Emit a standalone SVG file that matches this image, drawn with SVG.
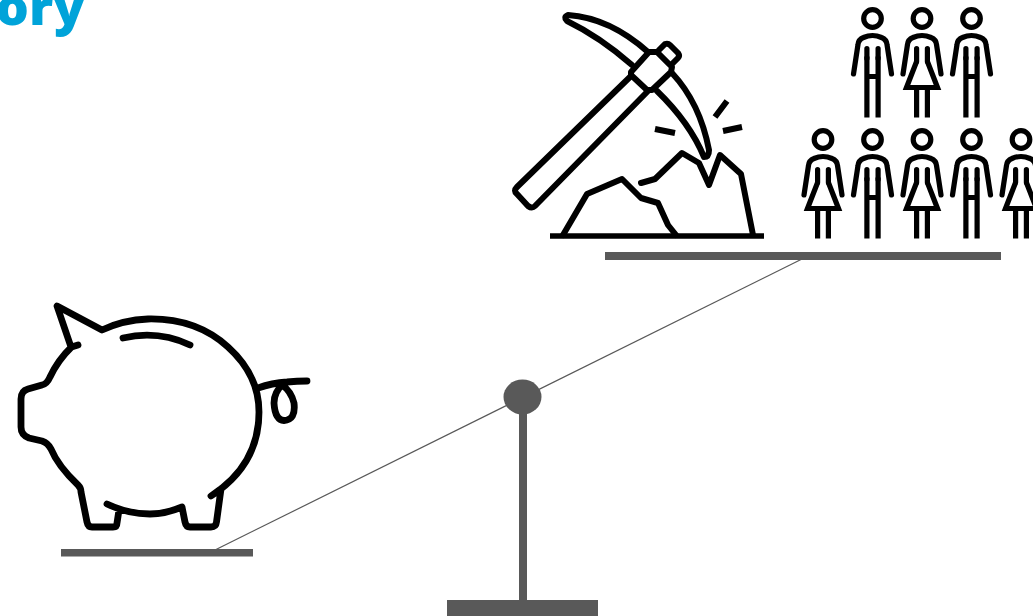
<svg xmlns="http://www.w3.org/2000/svg" width="1033" height="616" viewBox="0 0 1033 616">
<style>
.k{fill:none;stroke:#000;stroke-width:6;stroke-linejoin:round;stroke-linecap:round}
.b{fill:none;stroke:#000;stroke-width:6.800;stroke-linejoin:round;stroke-linecap:round}
.p{fill:none;stroke:#000;stroke-width:5.200;stroke-linejoin:miter;stroke-linecap:butt}
.pr{fill:none;stroke:#000;stroke-width:5.200;stroke-linejoin:round;stroke-linecap:round}
.g{fill:#595959}
.t{font-family:"Open Sans",sans-serif;font-weight:800;font-size:52px;fill:#00a3d9}
</style>
<defs>
<g id="man">
<circle class="p" cx="0" cy="0" r="8.800"/>
<path class="pr" d="M-19 55.500L-14.500 26Q-14 21-9 19Q0 15 9 19Q14 21 14.500 26L19 55.500"/>
<path class="pr" d="M-5.600 30V40M5.600 30V40"/>
<path class="p" d="M-5.600 38V99M5.600 38V99M-5.600 58H5.600"/>
</g>
<g id="woman">
<circle class="p" cx="0" cy="0" r="8.800"/>
<path class="pr" d="M-19 55.500L-14.500 26Q-14 21-9 19Q0 15 9 19Q14 21 14.500 26L19 55.500"/>
<path class="pr" d="M-5.400 30V43M5.400 30V43"/>
<path class="p" d="M-5.400 43L-15.500 69H15.500L5.400 43"/>
<path class="p" d="M-5.400 69V99M5.400 69V99"/>
</g>
</defs>
<text class="t" x="85" y="24.500" text-anchor="end">ory</text>
<g id="connectors">
<path d="M215 550L802 259" fill="none" stroke="#595959" stroke-width="1.200"/>
</g>
<g id="seesaw">
<rect class="g" x="605" y="252" width="396" height="8"/>
<rect class="g" x="61" y="549" width="192" height="7.500"/>
<ellipse class="g" cx="522.500" cy="397" rx="19" ry="17.500"/>
<rect class="g" x="519" y="400" width="8" height="202"/>
<rect class="g" x="447" y="600" width="151" height="16"/>
</g>
<g id="pig">
<path class="b" d="M78 345L71.500 347Q58 360 50 377Q47 384 42 385L28 389Q21 391 21 399V427Q21 435 29 438L42 441Q48 443 51 449Q58 466 78 485Q81 488 81 492L87 522Q88 527 92 527H113Q117 527 117 523L119 510M107 504Q128 514 150 514Q165 514 182 507L185 522Q186 527 190 527H211Q216 527 216.500 522L221 489M211 496Q259 465 259 412Q259 375 228 347Q196 318 148 319Q123 320 102 330L57 306L71 347"/>
<path class="b" d="M123 338Q158 330 190 345"/>
<path class="b" d="M258 388Q272 383 287 382Q297 381 307 381M283 384Q274 392 274 403Q275 420 284 420.500Q296 420 294 403Q291 391 282 385"/>
</g>
<g id="pickaxe">
<path class="k" d="M631 76L517 187Q513 191 517 194L528 206Q532 209 535 206L648 91"/>
<path class="k" d="M631 72L649 52H657L672 67L671 72L652 90H647L631 75Z"/>
<path class="k" d="M659 50L665 44Q668 43 670 45L678 53Q680 56 678 58L672 64"/>
<path class="k" d="M632 65Q600 37 567 21Q563 17 568 15Q610 18 648 52"/>
<path class="k" d="M672 73Q700 103 709 150Q709 157 704 157Q690 123 657 91"/>
<path class="k" d="M563 235L587 194L622 179L641 198L658 203L668 225L676 235"/>
<path class="k" d="M641 183L655 179L682 153L699 163L709 185L720 155L741 174L753 235"/>
<path d="M550 236H764" fill="none" stroke="#000" stroke-width="5.500"/>
<path d="M655 129L675 133M715 117L727 101M723 131L742 127" fill="none" stroke="#000" stroke-width="6"/>
</g>
<g id="people">
<use href="#man" x="872.500" y="18.500"/>
<use href="#woman" x="922" y="18.500"/>
<use href="#man" x="971.500" y="18.500"/>
<use href="#woman" x="823" y="139.500"/>
<use href="#man" x="872.500" y="139.500"/>
<use href="#woman" x="922" y="139.500"/>
<use href="#man" x="971.500" y="139.500"/>
<use href="#woman" x="1021" y="139.500"/>
</g>
</svg>
